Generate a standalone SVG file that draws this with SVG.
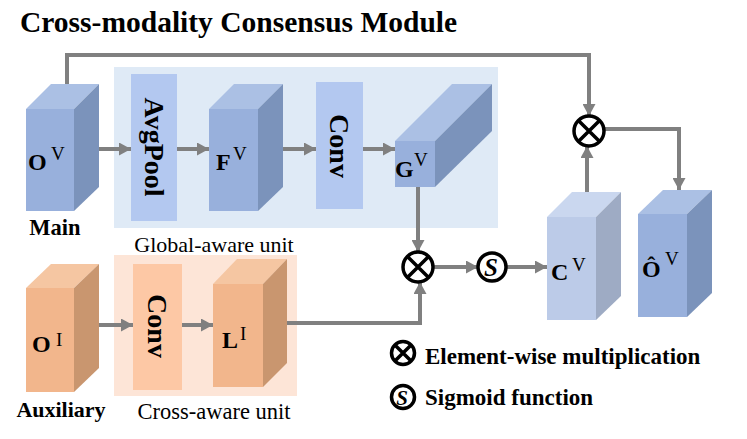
<svg xmlns="http://www.w3.org/2000/svg" width="747" height="439" viewBox="0 0 747 439">
<style>
.bf{fill:#98b0dc}.bt{fill:#abc0e4}.bs{fill:#7b93bb}
.cf{fill:#bccbe8}.ct{fill:#cad7ef}.cs{fill:#9eabc4}
.of{fill:#f2b68c}.ot{fill:#f5c6a2}.os{fill:#c9966f}
.con{fill:none;stroke:#808080;stroke-width:4;marker-end:url(#ah)}
.ttl{font-family:"Liberation Serif",serif;font-weight:bold}
.reg{font-family:"Liberation Serif",serif}
.lbl{font-family:"Liberation Serif",serif;font-weight:bold;font-size:24px}
.sup{font-family:"Liberation Serif",serif;font-size:19px}
.op{fill:#fff;stroke:#000;stroke-width:3.5}
.opx{stroke:#000;stroke-width:3.5}
.rot{font-family:"Liberation Serif",serif;font-weight:bold;font-size:28px}
.sg{font-family:"Liberation Serif",serif;font-style:italic;font-weight:bold}
</style>
<defs>
<marker id="ah" viewBox="0 0 12 13" refX="12" refY="6.5" markerWidth="12" markerHeight="13" markerUnits="userSpaceOnUse" orient="auto">
<path d="M0,0 L12,6.5 L0,13 z" fill="#808080"/>
</marker>
</defs>
<rect width="747" height="439" fill="#fff"/>
<text class="ttl" x="20" y="32" font-size="29.5">Cross-modality Consensus Module</text>

<g id="global-aware-unit">
<rect x="114" y="67" width="384" height="161" fill="#dfeaf6"/>
<text class="reg" x="214" y="252" font-size="22" text-anchor="middle">Global-aware unit</text>
</g>
<g id="cross-aware-unit">
<rect x="114" y="255" width="183" height="141" fill="#fde5d7"/>
<text class="reg" x="214" y="419" font-size="22.5" text-anchor="middle">Cross-aware unit</text>
</g>

<g id="connectors">
<path class="con" d="M67,86 V55 H589 V116"/>
<path class="con" d="M604,129 H679 V190"/>
<path class="con" d="M587,192 V146"/>
<path class="con" d="M418,187 V252"/>
<path class="con" d="M287,323 H420 V282"/>
<path class="con" d="M433,267 H478"/>
<path class="con" d="M506,267 H547"/>
<path class="con" d="M96,149 H131"/>
<path class="con" d="M177,149 H209"/>
<path class="con" d="M283,149 H316"/>
<path class="con" d="M363,149 H395"/>
<path class="con" d="M99,325 H133"/>
<path class="con" d="M182,325 H213"/>
</g>

<g id="OV">
<polygon class="bt" points="26,109 74,109 99,84 51,84"/>
<polygon class="bs" points="74,109 99,84 99,187 74,211"/>
<rect class="bf" x="26" y="109" width="48" height="102"/>
<text class="lbl" x="28" y="170">O</text><text class="sup" x="51" y="160">V</text>
<text class="ttl" x="55" y="235" font-size="22.5" text-anchor="middle">Main</text>
</g>

<g id="AvgPool">
<rect x="131" y="74" width="46" height="147" fill="#b3c8f0"/>
<text class="rot" transform="translate(154,147) rotate(90)" text-anchor="middle" dominant-baseline="central">AvgPool</text>
</g>

<g id="FV">
<polygon class="bt" points="209,109 258,109 283,84 234,84"/>
<polygon class="bs" points="258,109 283,84 283,187 258,211"/>
<rect class="bf" x="209" y="109" width="49" height="102"/>
<text class="lbl" x="216" y="170">F</text><text class="sup" x="233" y="160">V</text>
</g>

<g id="Conv-global">
<rect x="316" y="82" width="47" height="127" fill="#b3c8f0"/>
<text class="rot" transform="translate(339.5,146) rotate(90)" text-anchor="middle" dominant-baseline="central">Conv</text>
</g>

<g id="GV">
<polygon class="bt" points="395,141 435,141 492,84 452,84"/>
<polygon class="bs" points="435,141 492,84 492,131 435,187"/>
<rect class="bf" x="395" y="141" width="40" height="46"/>
<text class="lbl" x="395" y="177">G</text><text class="sup" x="414" y="166">V</text>
</g>

<g id="mul1">
<circle class="op" cx="418" cy="267" r="15"/>
<path class="opx" d="M407.4,256.4 L428.6,277.6 M428.6,256.4 L407.4,277.6"/>
</g>

<g id="sigmoid">
<circle class="op" cx="492" cy="267" r="14" stroke-width="4"/>
<text class="sg" x="491" y="276" font-size="25" text-anchor="middle">S</text>
</g>

<g id="CV">
<polygon class="ct" points="547,217 596,217 621,192 572,192"/>
<polygon class="cs" points="596,217 621,192 621,296 596,320"/>
<rect class="cf" x="547" y="217" width="49" height="103"/>
<text class="lbl" x="551" y="280">C</text><text class="sup" x="572" y="271">V</text>
</g>

<g id="mul2">
<circle class="op" cx="589" cy="131" r="15"/>
<path class="opx" d="M578.4,120.4 L599.6,141.6 M599.6,120.4 L578.4,141.6"/>
</g>

<g id="OhatV">
<polygon class="bt" points="638,214 687,214 712,190 663,190"/>
<polygon class="bs" points="687,214 712,190 712,293 687,317"/>
<rect class="bf" x="638" y="214" width="49" height="103"/>
<text class="lbl" x="642" y="277">Ô</text><text class="sup" x="665" y="265">V</text>
</g>

<g id="OI">
<polygon class="ot" points="26,288 74,288 99,264 51,264"/>
<polygon class="os" points="74,288 99,264 99,368 74,392"/>
<rect class="of" x="26" y="288" width="48" height="104"/>
<text class="lbl" x="32" y="352">O</text><text class="sup" x="56" y="346">I</text>
<text class="ttl" x="61" y="417" font-size="22" text-anchor="middle">Auxiliary</text>
</g>

<g id="Conv-cross">
<rect x="133" y="264" width="49" height="126" fill="#fdc8a5"/>
<text class="rot" transform="translate(157.5,326) rotate(90)" text-anchor="middle" dominant-baseline="central">Conv</text>
</g>

<g id="LI">
<polygon class="ot" points="213,284 263,284 287,259 237,259"/>
<polygon class="os" points="263,284 287,259 287,363 263,387"/>
<rect class="of" x="213" y="284" width="50" height="103"/>
<text class="lbl" x="222" y="348">L</text><text class="sup" x="240" y="340">I</text>
</g>

<g id="legend">
<circle class="op" cx="403" cy="353" r="11.5" stroke-width="3"/>
<path class="opx" d="M394.9,344.9 L411.1,361.1 M411.1,344.9 L394.9,361.1" stroke-width="3"/>
<text class="ttl" x="425" y="364" font-size="23">Element-wise multiplication</text>
<circle class="op" cx="403" cy="397" r="11.5" stroke-width="3.5"/>
<text class="sg" x="402" y="405" font-size="21" text-anchor="middle">S</text>
<text class="ttl" x="425" y="405" font-size="23">Sigmoid function</text>
</g>
</svg>
